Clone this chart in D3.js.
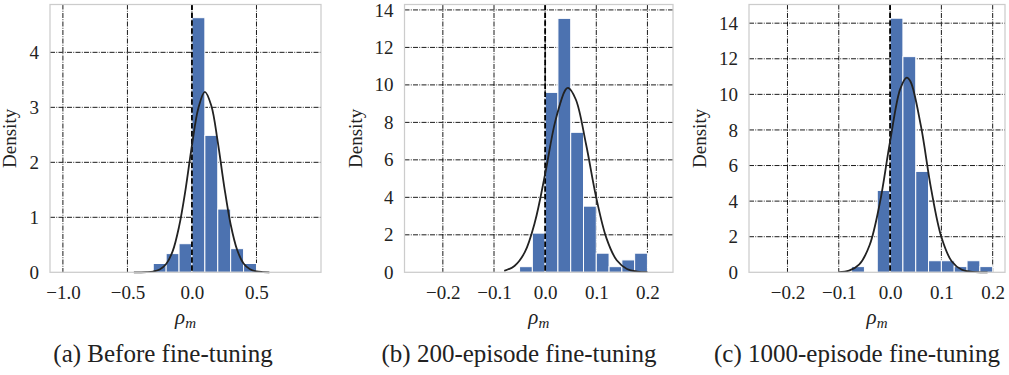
<!DOCTYPE html>
<html>
<head>
<meta charset="utf-8">
<script src="https://cdn.jsdelivr.net/npm/d3@7"></script>
<style>
  body { margin: 0; background: #fff; }
  text { font-family: 'Liberation Serif', 'Times New Roman', Times, serif; fill: #222; }
</style>
</head>
<body>
<svg id="chart" width="1009" height="375"></svg>
<script>
// histogram bins (edges) and densities
const binEdgesA = [-0.3, -0.2, -0.1, 0.0, 0.1, 0.2, 0.3, 0.4, 0.5];
const densityA = [0.16, 0.34, 0.52, 4.63, 2.49, 1.15, 0.43, 0.16];

const binEdgesB = [-0.05, -0.025, 0.0, 0.025, 0.05, 0.075, 0.1, 0.125, 0.15, 0.175, 0.2];
const densityB = [0.30, 2.09, 9.60, 13.55, 7.47, 3.53, 1.02, 0.30, 0.66, 1.02];

const binEdgesC = [-0.075, -0.05, -0.025, 0.0, 0.025, 0.05, 0.075, 0.1, 0.125, 0.15, 0.175, 0.2];
const densityC = [0.32, 0, 4.60, 14.28, 12.12, 5.67, 0.65, 0.65, 0.32, 0.65, 0.32];

// fitted normal curves
const curveXA = [-0.45, -0.4, -0.35, -0.3, -0.25, -0.2, -0.15, -0.1, -0.05, 0.0, 0.05, 0.1, 0.15, 0.2, 0.25, 0.3, 0.35, 0.4, 0.45, 0.5, 0.55, 0.6];
const curveYA = [0.0, 0.0, 0.003, 0.014, 0.05, 0.15, 0.38, 0.83, 1.50, 2.31, 2.99, 3.28, 3.03, 2.37, 1.56, 0.87, 0.41, 0.16, 0.055, 0.015, 0.004, 0.0];

const curveXB = [-0.08, -0.06, -0.04, -0.02, 0.0, 0.02, 0.04, 0.045, 0.06, 0.08, 0.1, 0.12, 0.14, 0.16, 0.18, 0.2];
const curveYB = [0.08, 0.34, 1.06, 2.68, 5.25, 8.08, 9.75, 9.84, 9.22, 6.83, 3.97, 1.81, 0.64, 0.18, 0.04, 0.01];

const curveXC = [-0.1, -0.08, -0.06, -0.04, -0.02, 0.0, 0.02, 0.0325, 0.04, 0.06, 0.08, 0.1, 0.12, 0.14, 0.16, 0.18, 0.19];
const curveYC = [0.015, 0.09, 0.44, 1.52, 3.89, 7.36, 10.32, 10.94, 10.71, 8.24, 4.69, 1.98, 0.62, 0.14, 0.02, 0.0, 0.0];

// axes
const xTicksA = [-1.0, -0.5, 0.0, 0.5];
const xTicksBC = [-0.2, -0.1, 0.0, 0.1, 0.2];
const yTicksA = [0, 1, 2, 3, 4];
const yTicksBC = [0, 2, 4, 6, 8, 10, 12, 14];

const captions = ['(a) Before fine-tuning', '(b) 200-episode fine-tuning', '(c) 1000-episode fine-tuning'];

const panels = [
  {edges: binEdgesA, dens: densityA, cx: curveXA, cy: curveYA, xt: xTicksA, yt: yTicksA,
   xdom: [-1.1, 1.0], ydom: [0, 4.87], left: 50, right: 321, labelOff: 34, capX: 163},
  {edges: binEdgesB, dens: densityB, cx: curveXB, cy: curveYB, xt: xTicksBC, yt: yTicksBC,
   xdom: [-0.275, 0.25], ydom: [0, 14.29], left: 404.5, right: 673, labelOff: 43, capX: 519},
  {edges: binEdgesC, dens: densityC, cx: curveXC, cy: curveYC, xt: xTicksBC, yt: yTicksBC,
   xdom: [-0.275, 0.224], ydom: [0, 15.05], left: 749, right: 1005, labelOff: 43, capX: 857}
];

const plotTop = 4.5, plotBottom = 272.3;
const fontFam = "'Liberation Serif', 'Times New Roman', Times, serif";
const svg = d3.select('#chart');

panels.forEach((p, i) => {
  const x = d3.scaleLinear().domain(p.xdom).range([p.left, p.right]);
  const y = d3.scaleLinear().domain(p.ydom).range([plotBottom, plotTop]);
  const g = svg.append('g');

  // grid
  g.append('g').selectAll('line').data(p.xt).enter().append('line')
    .attr('x1', d => x(d)).attr('x2', d => x(d))
    .attr('y1', plotTop).attr('y2', plotBottom)
    .attr('stroke', '#000').attr('stroke-width', 0.9)
    .attr('stroke-dasharray', '5,1.3,0.9,1.3');
  g.append('g').selectAll('line').data(p.yt.filter(d => d > 0)).enter().append('line')
    .attr('x1', p.left).attr('x2', p.right)
    .attr('y1', d => y(d)).attr('y2', d => y(d))
    .attr('stroke', '#000').attr('stroke-width', 0.9)
    .attr('stroke-dasharray', '5,1.3,0.9,1.3');

  // bars
  const bins = p.dens.map((d, k) => ({x0: p.edges[k], x1: p.edges[k + 1], v: d})).filter(b => b.v > 0);
  g.append('g').selectAll('rect').data(bins).enter().append('rect')
    .attr('x', d => x(d.x0))
    .attr('width', d => x(d.x1) - x(d.x0))
    .attr('y', d => y(d.v))
    .attr('height', d => plotBottom - y(d.v))
    .attr('fill', '#4c72b0')
    .attr('stroke', '#fff').attr('stroke-width', 1);

  // zero line
  g.append('line')
    .attr('x1', x(0)).attr('x2', x(0))
    .attr('y1', plotTop).attr('y2', plotBottom)
    .attr('stroke', '#000').attr('stroke-width', 1.8)
    .attr('stroke-dasharray', '5.5,2.4');

  // normal curve
  const line = d3.line()
    .x((d, k) => x(p.cx[k]))
    .y(d => y(d))
    .curve(d3.curveCatmullRom);
  g.append('path')
    .attr('d', line(p.cy))
    .attr('fill', 'none')
    .attr('stroke', '#222').attr('stroke-width', 1.8);

  // frame
  g.append('rect')
    .attr('x', p.left).attr('y', plotTop)
    .attr('width', p.right - p.left).attr('height', plotBottom - plotTop)
    .attr('fill', 'none').attr('stroke', '#cccccc').attr('stroke-width', 1.25);

  // axes (labels only)
  const xAxis = g.append('g')
    .attr('transform', `translate(0,${plotBottom})`)
    .call(d3.axisBottom(x).tickValues(p.xt).tickFormat(d3.format('.1f')).tickSize(0).tickPadding(13));
  const yAxis = g.append('g')
    .attr('transform', `translate(${p.left},0)`)
    .call(d3.axisLeft(y).tickValues(p.yt).tickFormat(d3.format('d')).tickSize(0).tickPadding(11));
  [xAxis, yAxis].forEach(a => {
    a.select('.domain').remove();
    a.selectAll('text').attr('font-size', 19).attr('font-family', fontFam).attr('fill', '#222');
  });

  // axis titles
  g.append('text')
    .attr('transform', `translate(${p.left - p.labelOff},${(plotTop + plotBottom) / 2}) rotate(-90)`)
    .attr('text-anchor', 'middle')
    .attr('font-size', 19)
    .text('Density');

  const xl = g.append('text')
    .attr('x', (p.left + p.right) / 2)
    .attr('y', 324)
    .attr('text-anchor', 'middle')
    .attr('font-size', 21)
    .attr('font-style', 'italic');
  xl.append('tspan').text('ρ');
  xl.append('tspan').attr('dy', 4).attr('font-size', 15).text('m');

  // caption
  svg.append('text')
    .attr('x', p.capX)
    .attr('y', 362)
    .attr('text-anchor', 'middle')
    .attr('font-size', 25)
    .attr('fill', '#000')
    .text(captions[i]);
});
</script>
</body>
</html>
